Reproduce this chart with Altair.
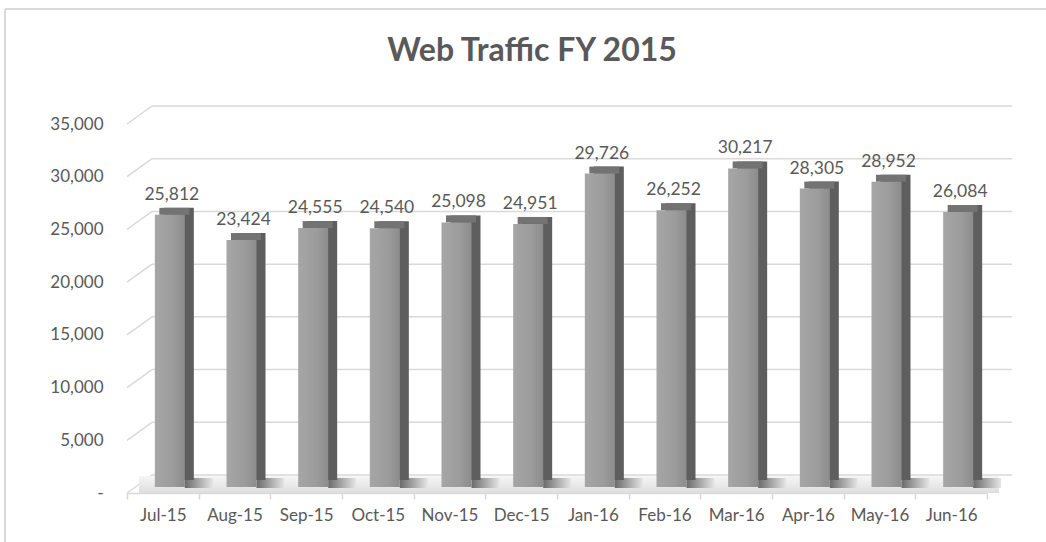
import altair as alt
import pandas as pd

# ---- data -------------------------------------------------------------
months = ["Jul-15", "Aug-15", "Sep-15", "Oct-15", "Nov-15", "Dec-15",
          "Jan-16", "Feb-16", "Mar-16", "Apr-16", "May-16", "Jun-16"]
visits = [25812, 23424, 24555, 24540, 25098, 24951,
          29726, 26252, 30217, 28305, 28952, 26084]
grid_values = [0, 5000, 10000, 15000, 20000, 25000, 30000, 35000]
title_text = ["Web Traffic FY 2015"]

df = pd.DataFrame({"month": months, "visits": visits})
gdf = pd.DataFrame({"v": grid_values})
one = pd.DataFrame({"k": [0]})
tdf = pd.DataFrame({"t": title_text})

FONT = "Lato"
TXT = "#595959"
GRID = "#d9d9d9"
W, H = 860, 369

yscale = alt.Scale(domain=[0, 35000], nice=False, zero=True)
xscale = alt.Scale(domain=months, paddingInner=0, paddingOuter=0)

x_enc = alt.X(
    "month:N", sort=months, scale=xscale, title=None,
    axis=alt.Axis(labelAngle=0, labelFont=FONT, labelFontSize=17, labelColor=TXT,
                  domainColor=GRID, domainWidth=1.5, tickColor=GRID, tickWidth=1.5,
                  tickSize=6, tickBand="extent", labelPadding=8),
)

yaxis = alt.Axis(
    values=grid_values, grid=False, domain=False, ticks=False, title=None,
    labelFont=FONT, labelFontSize=17, labelColor=TXT, labelPadding=24,
    labelExpr="datum.value == 0 ? '-\u00a0\u00a0\u00a0' : format(datum.value, ',')",
)

# chart frame (top + left border)
border_top = alt.Chart(one).mark_rule(color="#d9d9d9", strokeWidth=2).encode(
    x=alt.value(-122), x2=alt.value(W + 59), y=alt.value(-115)
)
border_left = alt.Chart(one).mark_rule(color="#d9d9d9", strokeWidth=2).encode(
    x=alt.value(-122), y=alt.value(-115), y2=alt.value(H + 49)
)

# title as text
title = alt.Chart(tdf).mark_text(
    font=FONT, fontSize=32, fontWeight="bold", color=TXT, baseline="alphabetic", align="center"
).encode(x=alt.value(405), y=alt.value(-63), text="t:N")

# back wall gridlines
grid_back = alt.Chart(gdf).mark_rule(color=GRID, strokeWidth=1.5, yOffset=-18).encode(
    y=alt.Y("v:Q", scale=yscale, axis=yaxis),
    x=alt.value(25), x2=alt.value(W + 25),
)
# side wall diagonals
grid_diag = alt.Chart(gdf).mark_rule(color=GRID, strokeWidth=1.5, y2Offset=-18).encode(
    y=alt.Y("v:Q", scale=yscale),
    y2="v:Q",
    x=alt.value(0), x2=alt.value(25),
)

# floor
floor = alt.Chart(one).mark_rect(
    yOffset=-17, y2Offset=0,
    color=alt.Gradient(gradient="linear", x1=0, x2=0, y1=0, y2=1,
                       stops=[alt.GradientStop(offset=0, color="#f6f6f6"),
                              alt.GradientStop(offset=1, color="#dedede")]),
).encode(
    x=alt.value(12), x2=alt.value(W + 12),
    y=alt.Y(datum=0, scale=yscale), y2=alt.datum(0),
)

# bar shadows on the floor
shadow = alt.Chart(df).mark_bar(
    width=28, xOffset=36, yOffset=-15, y2Offset=-5,
    color=alt.Gradient(gradient="linear", x1=0, x2=1, y1=0, y2=0,
                       stops=[alt.GradientStop(offset=0, color="#6a6a6a"),
                              alt.GradientStop(offset=1, color="#e6e6e6")]),
).encode(
    x=x_enc, y=alt.Y(datum=0, scale=yscale), y2=alt.datum(0)
)

# side face (dark)
side = alt.Chart(df).mark_bar(width=30, xOffset=16, yOffset=-13, y2Offset=-13,
                              color="#5e5e5e").encode(
    x=x_enc, y=alt.Y("visits:Q", scale=yscale), y2=alt.datum(0)
)
# top face
top = alt.Chart(df).mark_bar(width=30, xOffset=11.5, yOffset=-13, y2Offset=-6,
                             color="#737373").encode(
    x=x_enc, y=alt.Y("visits:Q", scale=yscale), y2=alt.Y2("visits:Q")
)
# front face
front = alt.Chart(df).mark_bar(
    width=30, xOffset=7, yOffset=-6, y2Offset=-6,
    color=alt.Gradient(gradient="linear", x1=0, x2=1, y1=0, y2=0,
                       stops=[alt.GradientStop(offset=0, color="#a6a6a6"),
                              alt.GradientStop(offset=0.6, color="#9c9c9c"),
                              alt.GradientStop(offset=1, color="#8c8c8c")]),
).encode(
    x=x_enc, y=alt.Y("visits:Q", scale=yscale), y2=alt.datum(0)
)

labels = alt.Chart(df).mark_text(
    font=FONT, fontSize=17.5, color=TXT, dx=9, dy=-21, baseline="alphabetic", align="center"
).encode(
    x=x_enc, y=alt.Y("visits:Q", scale=yscale), text=alt.Text("visits:Q", format=",")
)

chart = alt.layer(
    border_top, border_left, title, grid_back, grid_diag, floor, shadow, side, top, front, labels
).properties(
    width=W, height=H,
    autosize=alt.AutoSizeParams(type="none"),
    padding={"left": 127, "top": 124, "right": 59, "bottom": 49},
).configure(background="white").configure_view(stroke=None)

chart.save("out.html", embed_options={"renderer": "svg", "actions": False})
